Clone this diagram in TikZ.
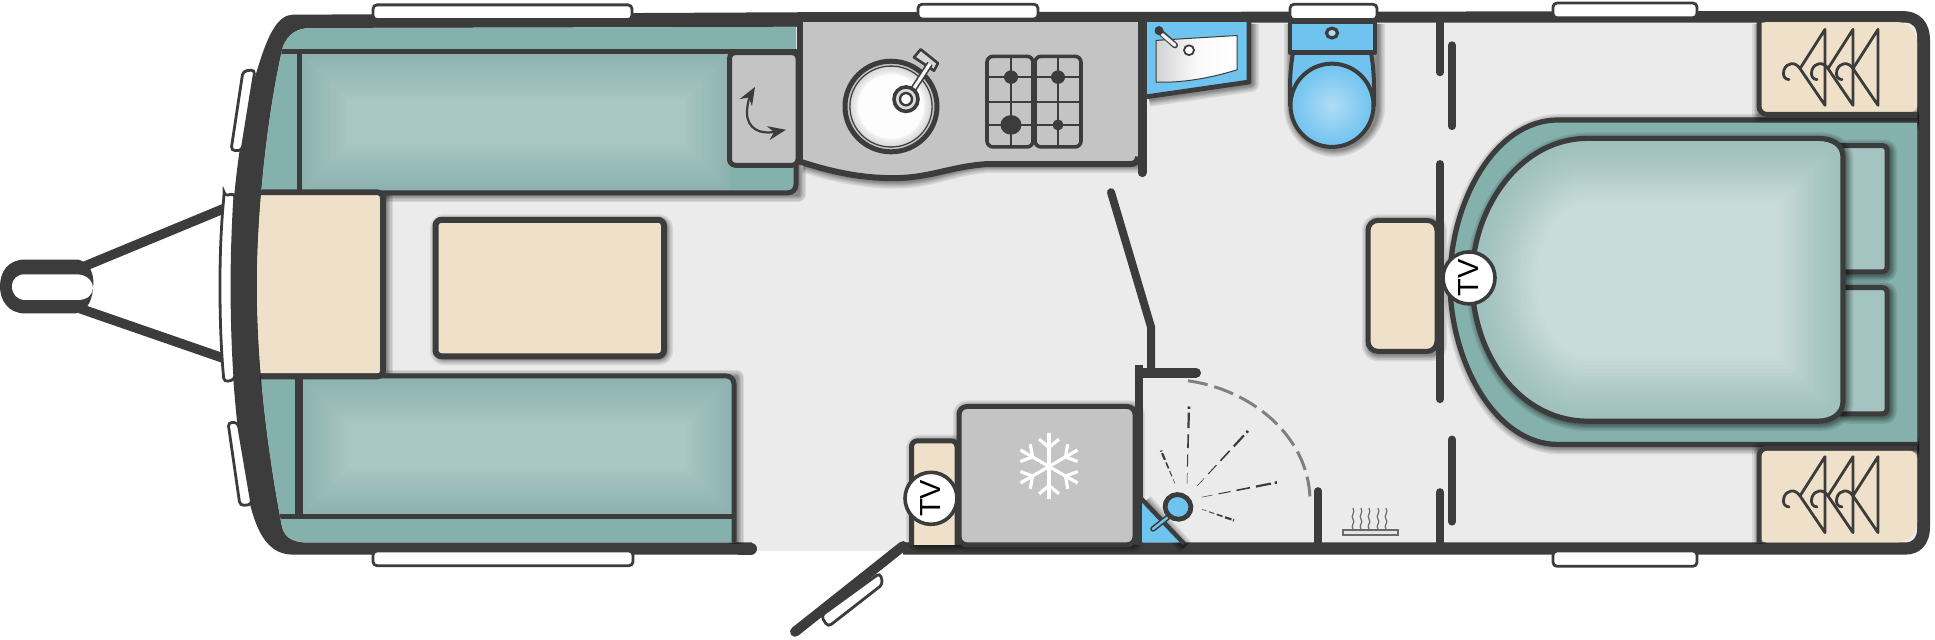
\documentclass[tikz,border=0pt]{standalone}
\usepackage{fontspec}
\setmainfont{Liberation Sans}
\usetikzlibrary{calc,arrows.meta}
\definecolor{dk}{HTML}{3C3C3C}
\definecolor{flr}{HTML}{EBEBEB}
\definecolor{teal1}{HTML}{85B1AC}
\definecolor{teal2}{HTML}{AAC7C5}
\definecolor{teal3}{HTML}{CADCDA}
\definecolor{cream}{HTML}{EEE0C9}
\definecolor{gry}{HTML}{C4C4C4}
\definecolor{blu}{HTML}{6FC3EF}
\definecolor{blul}{HTML}{B0DCF6}
\newcommand\softsh[2][]{\foreach \w in {8,6.5,5,4,3,2}{\draw[black,opacity=.085,line width=\w pt,line join=round,shift={(2,1.6)},#1] #2;}}
\newcommand\inglow[4][]{\begin{scope}\clip[#1] #3;\foreach \w in #4{\draw[#2,opacity=.06,line width=\w pt,line join=round,#1] #3;}\end{scope}}
\def\cushw{46,43,40,37,34,31,28,25,22,19,17,15,13,11,9,7,5,3}
\def\mattw{64,60,56,52,48,44,41,38,35,32,29,26,23,20,17,14,11,8,5}
\newcommand\spray[2]{\foreach \a/\b/\w in {0/.14/.25,.22/.38/.5,.46/.64/.8,.72/.92/1.1,.97/1/1.3}{\draw[dk,line width=\w pt] ($#1!\a!#2$) -- ($#1!\b!#2$);}}
\newcommand\hanger[2]{\begin{scope}[shift={(#1,#2)}]\draw[hang] (0,0) -- (-25,32) -- (0,62) -- cycle;\draw[hang] (-25,32) .. controls (-30,26) and (-38,27) .. (-41,33) .. controls (-43,38) and (-40,41) .. (-36,41);\end{scope}}
\def\innerP{(310,23) -- (800,22) -- (800,18.5) -- (1905,18.5) .. controls (1913,18.5) and (1917,23) .. (1917,30) -- (1917,432) .. controls (1917,439) and (1913,443) .. (1905,443) -- (307,443) .. controls (290,443) and (284,437) .. (282,430) .. controls (268,370) and (257,300) .. (257,233) .. controls (257,170) and (268,90) .. (283,38) .. controls (288,28) and (297,23) .. (310,23) -- cycle}
\tikzset{
 wl/.style={dk,line width=4pt,line cap=round},
 ol/.style={draw=dk,line width=2.5pt,line join=round},
 ln/.style={dk,line width=2.5pt},
 win/.style={draw=dk,fill=white,line width=1.4pt,rounded corners=2pt},
 hang/.style={dk,line width=1.4pt,line join=round,line cap=round},
 tvc/.style={circle,draw=dk,fill=white,line width=1.8pt,minimum size=26pt,inner sep=0pt},
 tvt/.style={font=\fontsize{14.5}{14.5}\selectfont,text=black,rotate=90,inner sep=0pt},
 hobg/.style={draw=dk,fill=gry,line width=1.8pt,rounded corners=3pt},
 hobl/.style={dk,line width=1pt},
}
\begin{document}
\begin{tikzpicture}[x=0.5pt,y=-0.6122pt]
\useasboundingbox (0,0) rectangle (1935,521.9);
\fill[white] (0,0) rectangle (1935,521.9);
% A-frame
\draw[dk,line width=4.8pt] (83,218) -- (225,170);
\draw[dk,line width=4.8pt] (80,252) -- (225,293);
\fill[dk] (25,212) -- (78,212) .. controls (90,214) and (95,225) .. (93,235) .. controls (92,248) and (85,255) .. (75,256) -- (25,256) .. controls (8,256) and (0,245) .. (0,234) .. controls (0,222) and (8,212) .. (25,212) -- cycle;
\fill[white] (25,224) -- (78,224) .. controls (88,225) and (93,230) .. (93,235) .. controls (93,240) and (88,245) .. (78,245) -- (25,245) .. controls (17,245) and (12,240) .. (12,234) .. controls (12,228) and (17,224) .. (25,224) -- cycle;
% shell and floor
\fill[dk] (293,12) -- (800,10) -- (1902,9) .. controls (1920,9) and (1930,18) .. (1930,33) -- (1930,430) .. controls (1930,445) and (1920,453) .. (1905,453) -- (293,453) .. controls (265,453) and (255,430) .. (248,405) .. controls (238,365) and (230,300) .. (230,233) .. controls (230,170) and (240,100) .. (258,55) .. controls (268,28) and (278,12) .. (293,12) -- cycle;
\fill[flr] \innerP;
\fill[white] (752,450) rectangle (903,455);
\fill[flr] (752,442) rectangle (903,450);
\draw[dk,line width=6pt,line cap=round] (740,448) -- (751,448);
% door
\draw[dk,line width=5pt,line cap=round] (903,446) -- (795,516);
\draw[win] (880,468) -- (883,477) -- (828,512) -- (821,503) -- cycle;
% shadows on floor
\softsh{(300,157) -- (796,157) -- (796,40)}
\softsh{(258,307) -- (734,307) -- (734,443)}
\softsh{(383,158) -- (383,307)}
\softsh[rounded corners=3pt]{(436,180) rectangle (663,290)}
\softsh{(802,133) .. controls (830,140) and (860,146) .. (893,146) .. controls (930,146) and (950,135) .. (987,133) -- (1137,133)}
\softsh[rounded corners=3pt]{(959,332) rectangle (1135,443)}
\softsh[rounded corners=3pt]{(912,360) rectangle (958,443)}
% upper bench
\begin{scope}
\clip \innerP;
\fill[teal1,rounded corners=4pt] (250,15) -- (796,15) -- (796,157) -- (250,157) -- cycle;
\fill[teal2] (302,43) rectangle (730,155);
\inglow{teal1}{(302,43) rectangle (730,155)}{\cushw}
\draw[ln,rounded corners=4pt] (250,157.5) -- (796,157.5) -- (796,125);
\draw[ln] (270,42) -- (800,42);
\draw[dk,line width=2.5pt] (299,42) -- (299,156);
% lower bench
\fill[teal1,rounded corners=4pt] (250,443) -- (250,307) -- (734,307) -- (734,445) -- cycle;
\fill[teal2] (303,309) rectangle (732,420);
\inglow{teal1}{(303,309) rectangle (732,420)}{\cushw}
\draw[ln,rounded corners=4pt] (250,307) -- (734,307) -- (734,445);
\draw[ln] (270,422) -- (734,422);
\draw[dk,line width=4pt] (299,309) -- (299,421);
% front seat
\fill[cream] (250,158) rectangle (381,305);
\draw[ln,line width=2.8pt,rounded corners=3pt] (250,157) -- (383,157) -- (383,307.5) -- (250,307.5);
\end{scope}
% table
\draw[ol,line width=3pt,fill=cream,rounded corners=3pt] (435.5,179.5) rectangle (664,291);
% kitchen
\fill[gry] (800,18) -- (1138,18) -- (1138,134) -- (987,134) .. controls (950,136) and (930,145.5) .. (893,145.5) .. controls (860,145.5) and (830,140) .. (800,131) -- cycle;
\draw[ln,line width=3pt] (800,132) .. controls (830,140) and (860,145.5) .. (893,145.5) .. controls (930,145.5) and (950,136) .. (987,134) -- (1130,134) .. controls (1135,134) and (1138,132) .. (1138,128);
\draw[dk,line width=3pt] (799.5,18) -- (799.5,134);
\draw[ol,fill=gry,rounded corners=3pt] (729.5,43) rectangle (798,135);
\draw[dk,line width=1.1pt,{Stealth[length=9pt,width=7pt]}-{Stealth[length=9pt,width=7pt]}] (786,106) .. controls (760,110) and (747,105) .. (747,92) .. controls (747,85) and (750,78) .. (755,71);
% sink
\draw[ol,fill=gry] (891,87) circle [x radius=46,y radius=37];
\draw[dk,line width=.7pt,fill=white!96!gry] (891,87) circle [x radius=41,y radius=33];
\begin{scope}\clip (891,87) circle [x radius=40.5,y radius=32.5];
\foreach \w in {8,6,4,2}{\draw[gry,opacity=.2,line width=\w pt] (891,87) circle [x radius=41,y radius=33];}
\end{scope}
\draw[dk,line width=1.3pt,fill=gry!70!white,line join=round] (920.7,40.3) -- (938,51.7) -- (934,57.7) -- (914,46.8) -- cycle;
\draw[dk,line width=3.2pt] (906,82) -- (930,52);
\draw[white!85!gry,line width=1.6pt] (906,82) -- (930,52);
\draw[dk,line width=1.8pt,fill=gry!60!white] (906,81) circle [x radius=12,y radius=10];
\draw[dk,line width=1.2pt,fill=white] (906,81) circle [x radius=6,y radius=5];
% hob
\draw[hobg] (987,46) rectangle (1033,120);
\draw[hobg] (1035,46) rectangle (1081,120);
\foreach \y in {63,83,102}{\draw[hobl] (987,\y) -- (1033,\y);\draw[hobl] (1035,\y) -- (1081,\y);}
\draw[hobl] (1011,46) -- (1011,120);
\draw[hobl] (1058,46) -- (1058,120);
\fill[dk] (1011,63) circle [x radius=7,y radius=5.5];
\fill[dk] (1011,102) circle [x radius=10.5,y radius=8];
\fill[dk] (1058,63) circle [x radius=7,y radius=5.5];
\fill[dk] (1058,102) circle [x radius=5.5,y radius=4.5];
% fridge
\draw[ol,fill=gry,rounded corners=4pt] (959,332) -- (1135,332) -- (1135,445) -- (959,445) -- cycle;
\begin{scope}[shift={(1049,381)},y=0.5pt]
\foreach \a in {30,90,...,330}{
 \draw[white,line width=1.6pt] (0,0) -- (\a:33);
 \draw[white,line width=1.6pt] (\a:19) -- ++(\a+50:13);
 \draw[white,line width=1.6pt] (\a:19) -- ++(\a-50:13);
}
\end{scope}
% TV unit
\draw[ol,fill=cream,rounded corners=3pt] (911.5,445) -- (911.5,360) -- (957,360) -- (957,445);
% interior walls
\draw[wl,line width=4.5pt] (1142,18) -- (1142,141);
\draw[wl] (1111,157) -- (1151,267) -- (1151,302);
\draw[dk,line width=5pt,line cap=round] (1142,304.5) -- (1196,304.5);
\draw[dk,line width=4pt] (1139,298) -- (1139,445);
\draw[wl,line width=3.8pt] (1318,401) -- (1318,445);
\draw[wl] (1440,18) -- (1440,59);
\draw[wl] (1440,402) -- (1440,445);
\draw[wl] (1452,37) -- (1452,103);
\draw[wl] (1452,359) -- (1452,426);
% shower
\softsh{(1143,408) -- (1183,445)}
\fill[blu] (1142,410) -- (1180,443) -- (1142,443) -- cycle;
\draw[dk,line width=2.2pt] (1141,407) -- (1184,444);
\draw[dk,line width=2.8pt,line cap=round] (1170,421) -- (1153,432);
\draw[blu,line width=1.2pt,line cap=round] (1170,421) -- (1153,432);
\draw[dk,line width=2.4pt,fill=blu,rotate around={-20:(1178,414)}] (1178,414) circle [x radius=13,y radius=10];
\draw[gray,line width=1.5pt,dash pattern=on 10pt off 3.5pt] (1188,311) .. controls (1250,318) and (1308,355) .. (1310,407);
\spray{(1175,395)}{(1161,368)}
\spray{(1187,395)}{(1189,332)}
\spray{(1197,397)}{(1248,352)}
\spray{(1202,406)}{(1277,394)}
\spray{(1202,416)}{(1234,425)}
% radiator
\draw[gray!70!dk,line width=.7pt,fill=white!80!gray] (1343,433) rectangle (1398,437);
\foreach \x in {1353,1361,1369,1378,1386}{\draw[gray!70!dk,line width=.6pt] (\x,415) .. controls (\x+3,419) and (\x-3,421) .. (\x,424) .. controls (\x+3,427) and (\x-3,429) .. (\x,432);}
% washbasin
\softsh{(1249,18) -- (1249,67) -- (1147,79)}
\fill[blu] (1147,18) -- (1249,18) -- (1249,67) -- (1147,79) -- cycle;
\draw[dk,line width=2.4pt,line join=round] (1249,18) -- (1249,67) -- (1147,79);
\shade[left color=gray!35!white,right color=white,middle color=white!96!gray,draw=dk,line width=.5pt] (1156,33) -- (1237,29) -- (1237,57) .. controls (1210,64) and (1180,68) .. (1156,67) -- cycle;
\draw[dk,line width=3pt,line cap=round] (1160,26) -- (1175,37);
\draw[white!90!gray,line width=1.7pt,line cap=round] (1162,28) -- (1175,37);
\fill[dk] (1159,25) circle [x radius=4.5,y radius=3.7];
\draw[dk,line width=.9pt,fill=white] (1189,41) circle [x radius=5,y radius=4];
% toilet
\softsh{(1290,18) -- (1290,86) .. controls (1290,105) and (1310,120) .. (1332,120) .. controls (1354,120) and (1375,105) .. (1375,86) -- (1375,18)}
\draw[ol,line width=2pt,fill=blu] (1293,43) .. controls (1291,52) and (1290,62) .. (1290,72) -- (1290,86) -- (1374,86) -- (1374,72) .. controls (1374,62) and (1373,52) .. (1371,43);
\draw[ol,line width=2pt,inner color=blul,outer color=blu] (1332,86) circle [x radius=41.5,y radius=34];
\draw[ol,fill=blu,line width=2.2pt] (1290,18) rectangle (1375,43);
\draw[dk,line width=1.6pt,fill=blul] (1332,27) circle [x radius=5.5,y radius=4];
% bed
\softsh{(1917,98) -- (1558,98) .. controls (1495,98) and (1450,165) .. (1450,230) .. controls (1450,295) and (1495,363) .. (1558,363) -- (1917,363)}
\fill[teal1] (1917,98) -- (1558,98) .. controls (1495,98) and (1450,165) .. (1450,230) .. controls (1450,295) and (1495,363) .. (1558,363) -- (1917,363) -- cycle;
\draw[ln,line width=2.6pt] (1917,98) -- (1558,98) .. controls (1495,98) and (1450,165) .. (1450,230) .. controls (1450,295) and (1495,363) .. (1558,363) -- (1917,363);
\softsh[rounded corners=2pt]{(1843,119) rectangle (1887,222)}
\softsh[rounded corners=2pt]{(1843,235) rectangle (1887,338)}
\draw[ol,fill=teal2!85!teal1,rounded corners=2pt] (1830,119) rectangle (1887,222);
\draw[ol,fill=teal2!85!teal1,rounded corners=2pt] (1830,235) rectangle (1887,338);
\def\matt{(1818,113) .. controls (1832,113) and (1843,118) .. (1843,128) -- (1843,328) .. controls (1843,338) and (1832,344) .. (1818,344) -- (1588,344) .. controls (1520,344) and (1472,290) .. (1472,228) .. controls (1472,170) and (1520,113) .. (1588,113) -- cycle}
\softsh{\matt}
\fill[teal3] \matt;
\inglow{teal1!60!teal2}{\matt}{\mattw}
\draw[ol,line width=2.6pt] \matt;
% bedroom table
\softsh[rounded corners=4pt]{(1368,180) rectangle (1437,287)}
\draw[ol,fill=cream,rounded corners=5pt] (1368,180) rectangle (1437,287);
\draw[wl] (1440,134) -- (1440,326);
% wardrobes
\softsh{(1758,18) -- (1758,92) -- (1917,92)}
\softsh{(1917,366) -- (1758,366) -- (1758,443)}
\fill[cream,rounded corners=4pt] (1759,18) -- (1905,18) -- (1917,28) -- (1917,92) -- (1759,92) -- cycle;
\draw[ln,rounded corners=4pt] (1759,18) -- (1759,93.5) -- (1917,93.5);
\fill[cream,rounded corners=4pt] (1759,443) -- (1905,443) -- (1917,433) -- (1917,368) -- (1759,368) -- cycle;
\draw[ln,rounded corners=4pt] (1759,443) -- (1759,366) -- (1917,366);
\foreach \x in {1825,1853,1878}{\hanger{\x}{24}\hanger{\x}{373}}
% windows
\draw[win] (373,4) rectangle (632,16);
\draw[win] (918,3.5) rectangle (1038,15.5);
\draw[win] (1290,3.5) rectangle (1377,16);
\draw[win] (1553,2.5) rectangle (1697,14.5);
\draw[win] (373,450) rectangle (633,462);
\draw[win] (1553,450) rectangle (1697,462.5);
\draw[win] (243,58) -- (255,57) -- (242,123) -- (231,123) -- cycle;
\draw[win] (228,345) -- (238,345) -- (252,412) -- (240,413) -- cycle;
\draw[win] (224,160) -- (235,158) .. controls (233,185) and (232,210) .. (232,233) .. controls (232,260) and (233,285) .. (235,310) -- (224,312) .. controls (221,285) and (220,260) .. (220,233) .. controls (220,210) and (221,185) .. (224,160) -- cycle;
% TV
\node[tvc] (tv1) at (931,407) {};
\node[tvt] (tv1t) at (tv1) {TV};
\node[tvc] (tv2) at (1469,227) {};
\node[tvt] (tv2t) at (tv2) {TV};
\end{tikzpicture}
\end{document}
